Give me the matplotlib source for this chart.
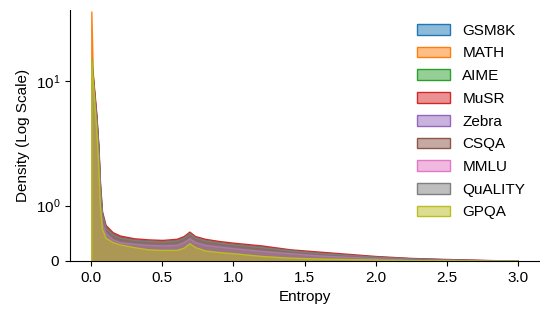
import numpy as np
import matplotlib
matplotlib.use("Agg")
import matplotlib.pyplot as plt
from matplotlib.colors import to_rgba
from matplotlib.ticker import NullLocator

plt.rcParams['font.family'] = ['Liberation Sans', 'DejaVu Sans']

# entropy grid
entropy = [0.0, 0.01, 0.02, 0.035, 0.05, 0.06, 0.075, 0.1, 0.15, 0.2, 0.3, 0.4, 0.5,
           0.6, 0.65, 0.69, 0.73, 0.8, 0.9, 1.0, 1.2, 1.4, 1.6, 1.8, 2.0, 2.25, 2.5, 2.75, 3.0]

datasets = ['GSM8K', 'MATH', 'AIME', 'MuSR', 'Zebra', 'CSQA', 'MMLU', 'QuALITY', 'GPQA']
colors = ['tab:blue', 'tab:orange', 'tab:green', 'tab:red', 'tab:purple',
          'tab:brown', 'tab:pink', 'tab:gray', 'tab:olive']

gsm8k = [14, 10, 7.5, 4.8, 2.6, 1.3, 0.78, 0.57, 0.45, 0.40, 0.36, 0.34, 0.33, 0.35, 0.40,
         0.47, 0.40, 0.35, 0.31, 0.28, 0.22, 0.17, 0.13, 0.09, 0.06, 0.035, 0.02, 0.01, 0.003]
math_ = [36, 12, 8, 5, 2.7, 1.3, 0.78, 0.56, 0.44, 0.39, 0.35, 0.33, 0.32, 0.34, 0.39,
         0.46, 0.39, 0.34, 0.30, 0.27, 0.21, 0.16, 0.12, 0.085, 0.055, 0.03, 0.018, 0.009, 0.003]
aime = [15, 11, 7.8, 5, 2.8, 1.4, 0.8, 0.58, 0.46, 0.41, 0.37, 0.35, 0.34, 0.36, 0.41,
        0.48, 0.41, 0.36, 0.32, 0.29, 0.23, 0.18, 0.14, 0.10, 0.065, 0.04, 0.024, 0.012, 0.004]
musr = [13, 11, 8.5, 5.5, 3.0, 1.6, 0.9, 0.65, 0.52, 0.46, 0.41, 0.39, 0.38, 0.40, 0.45,
        0.53, 0.45, 0.40, 0.36, 0.33, 0.28, 0.21, 0.17, 0.13, 0.09, 0.055, 0.036, 0.02, 0.005]
zebra = [12, 9.5, 7, 4.5, 2.4, 1.2, 0.72, 0.52, 0.41, 0.36, 0.33, 0.31, 0.30, 0.31, 0.36,
         0.43, 0.36, 0.31, 0.28, 0.25, 0.19, 0.15, 0.11, 0.08, 0.05, 0.03, 0.018, 0.009, 0.003]
csqa = [13, 10.5, 8, 5.2, 2.9, 1.5, 0.86, 0.62, 0.5, 0.44, 0.39, 0.37, 0.36, 0.38, 0.43,
        0.51, 0.43, 0.38, 0.34, 0.31, 0.26, 0.2, 0.15, 0.115, 0.08, 0.048, 0.03, 0.016, 0.004]
mmlu = [12, 9, 6.8, 4.4, 2.3, 1.15, 0.68, 0.5, 0.39, 0.34, 0.31, 0.29, 0.28, 0.29, 0.34,
        0.41, 0.34, 0.29, 0.26, 0.23, 0.18, 0.14, 0.1, 0.075, 0.05, 0.03, 0.018, 0.009, 0.003]
quality = [13, 10.2, 7.7, 5, 2.8, 1.45, 0.84, 0.6, 0.48, 0.42, 0.38, 0.36, 0.35, 0.37, 0.42,
           0.50, 0.42, 0.37, 0.33, 0.30, 0.25, 0.19, 0.145, 0.11, 0.075, 0.045, 0.028, 0.014, 0.004]
gpqa = [15, 10, 7, 4, 2.0, 1.0, 0.58, 0.42, 0.34, 0.30, 0.25, 0.21, 0.20, 0.20, 0.24,
        0.32, 0.25, 0.19, 0.16, 0.14, 0.09, 0.06, 0.045, 0.035, 0.025, 0.015, 0.01, 0.005, 0.002]

series = [gsm8k, math_, aime, musr, zebra, csqa, mmlu, quality, gpqa]

fig = plt.figure(figsize=(5.4, 3.09), dpi=100)
ax = fig.add_axes([70/540, 1 - 261/309, 469/540, 251/309])

for name, c, vals in zip(datasets, colors, series):
    ax.fill_between(entropy, vals, 0, facecolor=to_rgba(c, 0.5), edgecolor=c,
                    linewidth=1, label=name)

ax.set_yscale('symlog', linthresh=1, linscale=0.4)
ax.yaxis.set_minor_locator(NullLocator())
ax.set_ylim(0, 37)
ax.set_xlim(-0.15, 3.15)
ax.set_xticks([0.0, 0.5, 1.0, 1.5, 2.0, 2.5, 3.0])
ax.tick_params(labelsize=11)
ax.set_xlabel('Entropy', fontsize=11)
ax.set_ylabel('Density (Log Scale)', fontsize=11)
ax.spines['top'].set_visible(False)
ax.spines['right'].set_visible(False)

ax.legend(loc='upper right', frameon=False, fontsize=11, labelspacing=0.57,
          handlelength=2.2, handleheight=0.7, bbox_to_anchor=(1.0, 1.0))

fig.savefig('out.png', dpi=100)
